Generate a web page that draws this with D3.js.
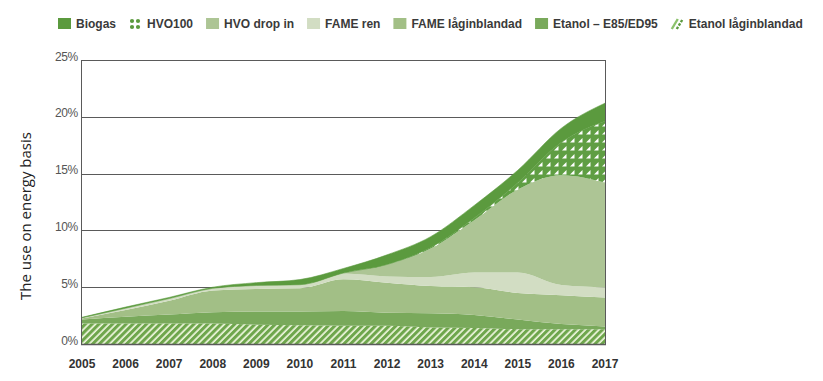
<!DOCTYPE html>
<html><head><meta charset="utf-8">
<script src="https://cdn.jsdelivr.net/npm/d3@7"></script>
<style>body{margin:0;background:#fff}svg{display:block}</style>
</head><body><svg id="c" width="823" height="381"></svg>
<script>
// ---- data (percent of energy use) ----
const years      = [2005,2006,2007,2008,2009,2010,2011,2012,2013,2014,2015,2016,2017];
const etanolLag  = [1.8, 1.8, 1.8, 1.8, 1.7, 1.65,1.6, 1.6, 1.45,1.4, 1.3, 1.3, 1.3];
const etanolE85  = [0.35,0.6, 0.8, 1.0, 1.15,1.2, 1.3, 1.15,1.25,1.15,0.85,0.45,0.25];
const fameLag    = [0.1, 0.6, 1.2, 1.9, 2.0, 2.05,2.8, 2.65,2.4, 2.45,2.35,2.55,2.55];
const fameRen    = [0.05,0.15,0.2, 0.2, 0.3, 0.3, 0.5, 0.55,0.8, 1.3, 1.8, 0.9, 0.9];
const hvoDropIn  = [0,   0,   0,   0,   0,   0.02,0.05,1.05,2.5, 4.6, 7.3, 9.65,9.2];
const hvo100     = [0,   0,   0,   0,   0,   0,   0,   0,   0.1, 0.2, 0.6, 2.9, 5.4];
const biogas     = [0.05,0.1, 0.1, 0.1, 0.25,0.45,0.4, 0.85,0.95,1.1, 1.1, 1.25,1.6];
const yTicks     = [0,5,10,15,20,25];
const yTickLabels= ["0%","5%","10%","15%","20%","25%"];
const legendLabels = ["Biogas","HVO100","HVO drop in","FAME ren","FAME låginblandad","Etanol – E85/ED95","Etanol låginblandad"];
const yTitle = "The use on energy basis";

const svg = d3.select("#c");
const x = d3.scaleLinear().domain([2005,2017]).range([82,605]);
const y = d3.scaleLinear().domain([0,25]).range([344,60]);

// patterns
const defs = svg.append("defs");
const hatch = defs.append("pattern").attr("id","hatch").attr("patternUnits","userSpaceOnUse")
  .attr("width",4.8).attr("height",4.8).attr("patternTransform","rotate(45)");
hatch.append("rect").attr("width",4.8).attr("height",4.8).attr("fill","#eef6de");
hatch.append("rect").attr("width",3.1).attr("height",4.8).attr("fill","#6ea64c");

const dots = defs.append("pattern").attr("id","hvo100").attr("patternUnits","userSpaceOnUse")
  .attr("width",8).attr("height",8);
dots.append("rect").attr("width",8).attr("height",8).attr("fill","#5f9e43");
dots.append("path").attr("d","M2,6.5 L6.5,6.5 L6.5,2 Z").attr("fill","#ffffff");

// gridlines
const grid = svg.append("g");
yTicks.filter(t=>t>0).forEach(t=>{
  grid.append("line").attr("x1",x(2005)-0.5).attr("x2",x(2017)).attr("y1",Math.round(y(t))+0.5).attr("y2",Math.round(y(t))+0.5)
    .attr("stroke","#5a5a5a").attr("stroke-width",1);
});

// stacked areas
const keys = ["etanolLag","etanolE85","fameLag","fameRen","hvoDropIn","hvo100","biogas"];
const series = {etanolLag,etanolE85,fameLag,fameRen,hvoDropIn,hvo100,biogas};
const fills = {etanolLag:"url(#hatch)",etanolE85:"#79a95b",fameLag:"#a2bf86",fameRen:"#d2ddc3",hvoDropIn:"#adc595",hvo100:"url(#hvo100)",biogas:"#5b9a3e"};
const table = years.map((yr,i)=>{const o={year:yr}; keys.forEach(k=>o[k]=series[k][i]); return o;});
const stack = d3.stack().keys(keys)(table);
const area = d3.area().x(d=>x(d.data.year)).y0(d=>y(d[0])).y1(d=>y(d[1])).curve(d3.curveMonotoneX);
svg.append("g").selectAll("path").data(stack).join("path")
  .attr("d",area).attr("fill",d=>fills[d.key]).attr("stroke",d=>d.key==="biogas"?"#5b9a3e":"none").attr("stroke-width",0.6);

// frame
const fr = svg.append("g").attr("stroke","#5a5a5a").attr("fill","none");
fr.append("line").attr("x1",81.5).attr("x2",81.5).attr("y1",y(25)).attr("y2",y(0)+1);
fr.append("line").attr("x1",605.5).attr("x2",605.5).attr("y1",y(25)).attr("y2",y(0)+1);
fr.append("line").attr("x1",81).attr("x2",606).attr("y1",344.5).attr("y2",344.5).attr("stroke-width",1.5);

// y tick labels
svg.append("g").selectAll("text").data(yTicks).join("text")
  .attr("x",78).attr("y",d=>y(d)+0.5).attr("text-anchor","end")
  .attr("font-family","Liberation Sans, Arial, sans-serif").attr("font-size",12).attr("fill","#555")
  .attr("letter-spacing","-0.3")
  .text((d,i)=>yTickLabels[i]);

// x tick labels
svg.append("g").selectAll("text").data(years).join("text")
  .attr("x",d=>x(d)).attr("y",367.5).attr("text-anchor","middle")
  .attr("font-family","Liberation Sans, Arial, sans-serif").attr("font-weight","bold").attr("font-size",12).attr("fill","#333")
  .text(d=>d);

// y title
svg.append("text").attr("transform",`translate(31,${(y(0)+y(25))/2+14}) rotate(-90)`)
  .attr("text-anchor","middle").attr("font-family","Open Sans, sans-serif").attr("font-size",15).attr("fill","#222")
  .text(yTitle);

// legend
const leg = svg.append("g");
let lx = 58;
const legendKeys = ["biogas","hvo100","hvoDropIn","fameRen","fameLag","etanolE85","etanolLag"];
legendKeys.forEach((k,i)=>{
  const g = leg.append("g").attr("transform",`translate(${lx},18)`);
  if(k==="hvo100"){
    [[3,3],[9,3],[3,9],[9,9]].forEach(p=>g.append("circle").attr("cx",p[0]).attr("cy",p[1]).attr("r",2.1).attr("fill","#5b9a3e"));
  } else if(k==="etanolLag"){
    g.append("line").attr("x1",1).attr("y1",11).attr("x2",7).attr("y2",1).attr("stroke","#8cc26c").attr("stroke-width",2.4);
    g.append("line").attr("x1",6).attr("y1",11).attr("x2",12).attr("y2",1).attr("stroke","#5b9a3e").attr("stroke-width",2.4).attr("stroke-dasharray","2.5,1.5");
  } else {
    g.append("rect").attr("width",13).attr("height",11).attr("fill",fills[k]);
  }
  const t = g.append("text").attr("x",18).attr("y",10.3)
    .attr("font-family","Liberation Sans, Arial, sans-serif").attr("font-weight","bold").attr("font-size",12).attr("fill","#3a3a3a")
    .text(legendLabels[i]);
  lx += 18 + t.node().getComputedTextLength() + 13;
});
</script>
</body></html>
